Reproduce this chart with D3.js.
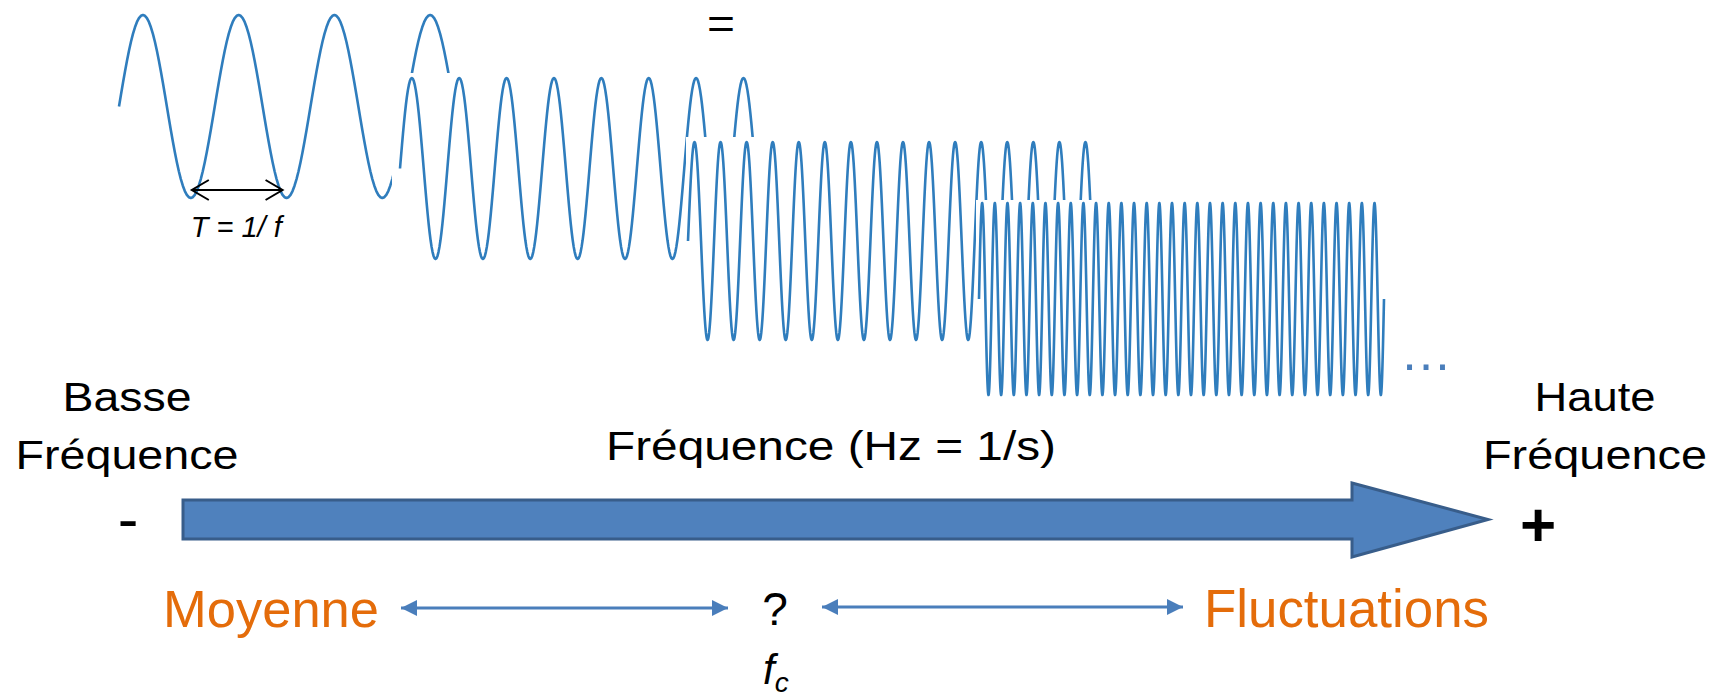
<!DOCTYPE html>
<html><head><meta charset="utf-8">
<script src="https://cdn.jsdelivr.net/npm/d3@7/dist/d3.min.js"></script>
<style>
html,body{margin:0;padding:0;background:#fff;overflow:hidden;}
svg{display:block;font-family:"Liberation Sans",Arial,Helvetica,sans-serif;}
</style>
</head><body>
<svg id="chart" width="1725" height="699"></svg>
<script>
// ---------- data ----------
const waveNames   = ["f", "2f", "4f", "8f"];
const waveCycles  = [4, 8, 16, 32];
const lowLabel    = ["Basse", "Fréquence"];
const highLabel   = ["Haute", "Fréquence"];
const axisTitle   = "Fréquence (Hz = 1/s)";
const signs       = ["-", "+"];
const scaleLabels = ["Moyenne", "?", "Fluctuations"];
const periodLabel = "T = 1/ f";
const equalsLabel = "=";
const moreLabel   = "…";

// ---------- layout ----------
const W = 1725, H = 699;
const waveLayout = [
  {x0: 119, x1: 502,  cy: 106.5, amp: 91.5, boxL: 110, boxT: 8},
  {x0: 400, x1: 779,  cy: 168.5, amp: 90.5, boxL: 392, boxT: 73},
  {x0: 688, x1: 1105, cy: 241,   amp: 99,   boxL: 686, boxT: 137},
  {x0: 979, x1: 1384, cy: 299,   amp: 96,   boxL: 976, boxT: 200}
];
const waveColor = "#2f7dbd";
const orange = "#e46c0a";
const arrowBlue = "#4a7ebb";

const svg = d3.select("#chart");
svg.append("rect").attr("width", W).attr("height", H).attr("fill", "#fff");

// ---------- waves ----------
const gW = svg.append("g");
waveCycles.forEach((cyc, i) => {
  const L = waveLayout[i];
  const x = d3.scaleLinear().domain([0, cyc]).range([L.x0, L.x1]);
  const y = d3.scaleLinear().domain([-1, 1]).range([L.cy + L.amp, L.cy - L.amp]);
  const g = gW.append("g").attr("class", "wave-" + waveNames[i]);
  g.append("rect")
    .attr("x", L.boxL).attr("y", L.boxT)
    .attr("width", L.x1 + 4 - L.boxL)
    .attr("height", (L.cy + L.amp + 6) - L.boxT)
    .attr("fill", "#fff");
  const n = cyc * 48;
  const pts = d3.range(n + 1).map(k => k / 48);
  g.append("path")
    .attr("d", d3.line().x(t => x(t)).y(t => y(Math.sin(2 * Math.PI * t)))(pts))
    .attr("fill", "none")
    .attr("stroke", waveColor)
    .attr("stroke-width", 2.6)
    .attr("stroke-linejoin", "round");
});

// period arrow (trough to trough of first wave)
{
  const L = waveLayout[0];
  const x = d3.scaleLinear().domain([0, waveCycles[0]]).range([L.x0, L.x1]);
  const yT = L.cy + L.amp - 8;
  const xa = x(0.75) + 1, xb = x(1.75) - 4;
  const g = svg.append("g").attr("stroke", "#000").attr("stroke-width", 2).attr("fill", "none");
  g.append("line").attr("x1", xa).attr("x2", xb).attr("y1", yT).attr("y2", yT);
  g.append("polyline").attr("points", `${xa + 17},${yT - 10} ${xa},${yT} ${xa + 17},${yT + 10}`);
  g.append("polyline").attr("points", `${xb - 17},${yT - 10} ${xb},${yT} ${xb - 17},${yT + 10}`);
  svg.append("text").attr("x", (xa + xb) / 2 - 1).attr("y", 237)
    .attr("text-anchor", "middle").attr("font-style", "italic")
    .attr("font-size", 29).attr("fill", "#000").text(periodLabel);
}

// "=" sign
svg.append("text").attr("x", 721).attr("y", 38).attr("text-anchor", "middle")
  .attr("font-size", 42).attr("textLength", 28).attr("lengthAdjust", "spacingAndGlyphs")
  .attr("fill", "#000").text(equalsLabel);

// "…"
svg.append("text").attr("x", 1426).attr("y", 370).attr("text-anchor", "middle")
  .attr("font-size", 52).attr("fill", arrowBlue).text(moreLabel);

// ---------- big frequency arrow ----------
const bigArrow = [[183, 500], [1352, 500], [1352, 483], [1488, 519.5], [1352, 557], [1352, 539], [183, 539]];
svg.append("path")
  .attr("d", d3.line()(bigArrow) + "Z")
  .attr("fill", "#4f81bd").attr("stroke", "#385d8a").attr("stroke-width", 3)
  .attr("stroke-linejoin", "miter");

// side labels
function twoLines(lines, cx, widths) {
  lines.forEach((s, i) => {
    svg.append("text").attr("x", cx).attr("y", 411 + i * 58)
      .attr("text-anchor", "middle").attr("font-size", 41).attr("fill", "#000")
      .attr("textLength", widths[i]).attr("lengthAdjust", "spacingAndGlyphs")
      .text(s);
  });
}
twoLines(lowLabel, 127, [129, 223]);
twoLines(highLabel, 1595, [121, 224]);

svg.append("text").attr("x", 831).attr("y", 460).attr("text-anchor", "middle")
  .attr("font-size", 41).attr("fill", "#000")
  .attr("textLength", 450).attr("lengthAdjust", "spacingAndGlyphs")
  .text(axisTitle);

// signs
svg.append("text").attr("x", 128).attr("y", 540).attr("text-anchor", "middle")
  .attr("font-size", 62).attr("fill", "#000").text(signs[0]);
svg.append("text").attr("x", 1538).attr("y", 546).attr("text-anchor", "middle")
  .attr("font-size", 62).attr("font-weight", "bold").attr("fill", "#000").text(signs[1]);

// ---------- bottom scale ----------
svg.append("text").attr("x", 163).attr("y", 627).attr("font-size", 52.5)
  .attr("fill", orange).text(scaleLabels[0]);
svg.append("text").attr("x", 775).attr("y", 625).attr("text-anchor", "middle")
  .attr("font-size", 46).attr("fill", "#000").text(scaleLabels[1]);
svg.append("text").attr("x", 1204).attr("y", 627).attr("font-size", 53)
  .attr("textLength", 285).attr("lengthAdjust", "spacingAndGlyphs")
  .attr("fill", orange).text(scaleLabels[2]);

const fc = svg.append("text").attr("x", 763).attr("y", 684).attr("font-size", 42)
  .attr("font-style", "italic").attr("fill", "#000");
fc.append("tspan").text("f");
fc.append("tspan").attr("dy", 8).attr("font-size", 28).text("c");

// double-headed thin arrows
const defs = svg.append("defs");
["s", "e"].forEach(k => {
  defs.append("marker").attr("id", "ah-" + k)
    .attr("viewBox", "0 0 10 10").attr("refX", k === "e" ? 10 : 0).attr("refY", 5)
    .attr("markerUnits", "userSpaceOnUse").attr("markerWidth", 16).attr("markerHeight", 16)
    .attr("orient", "auto")
    .append("path")
    .attr("d", k === "e" ? "M0,0 L10,5 L0,10 Z" : "M10,0 L0,5 L10,10 Z")
    .attr("fill", arrowBlue);
});
const smallArrows = [[401, 728, 608], [822, 1183, 607]];
smallArrows.forEach(a => {
  svg.append("line").attr("x1", a[0]).attr("x2", a[1]).attr("y1", a[2]).attr("y2", a[2])
    .attr("stroke", arrowBlue).attr("stroke-width", 3)
    .attr("marker-start", "url(#ah-s)").attr("marker-end", "url(#ah-e)");
});
</script>
</body></html>
